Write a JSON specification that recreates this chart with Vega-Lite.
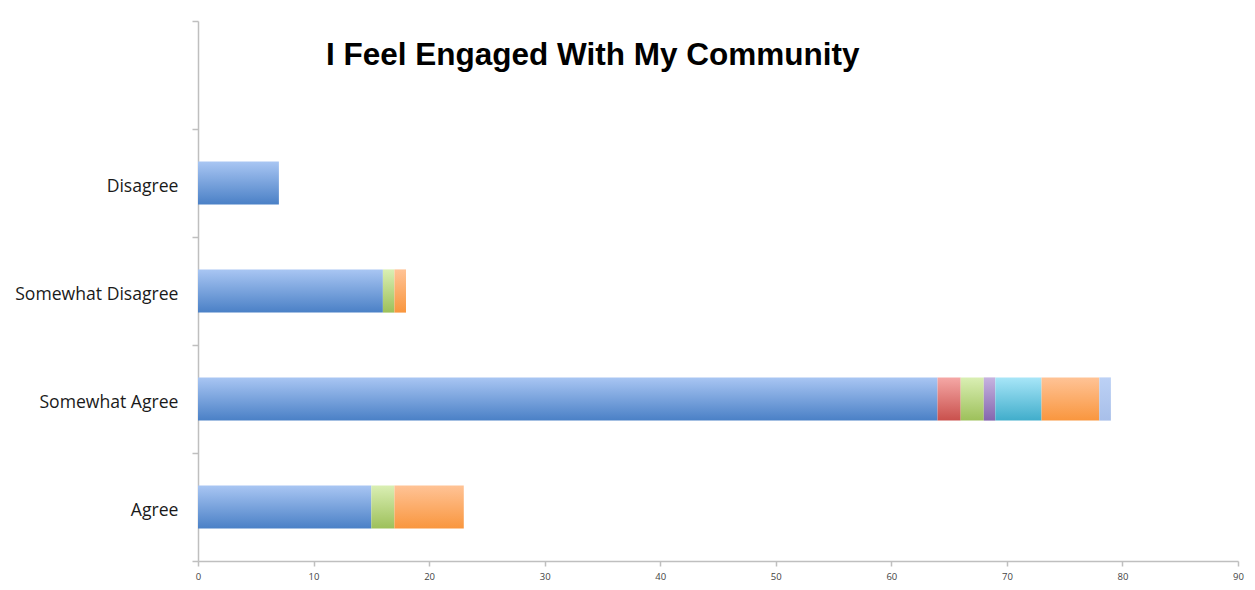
{
  "$schema": "https://vega.github.io/schema/vega-lite/v6.json",
  "width": 1040,
  "height": 540,
  "autosize": "none",
  "padding": {"left": 198, "top": 21, "right": 17, "bottom": 29},
  "background": "white",
  "title": {
    "text": "I Feel Engaged With My Community",
    "font": "Liberation Sans",
    "fontSize": 31.5,
    "fontWeight": "bold",
    "color": "#000000",
    "anchor": "start",
    "frame": "group",
    "dx": 128,
    "dy": 38,
    "offset": -46,
    "baseline": "alphabetic"
  },
  "data": {
    "values": [
      {"response": "Disagree", "series": "S1", "count": 7},
      {"response": "Somewhat Disagree", "series": "S1", "count": 16},
      {"response": "Somewhat Disagree", "series": "S3", "count": 1},
      {"response": "Somewhat Disagree", "series": "S6", "count": 1},
      {"response": "Somewhat Agree", "series": "S1", "count": 64},
      {"response": "Somewhat Agree", "series": "S2", "count": 2},
      {"response": "Somewhat Agree", "series": "S3", "count": 2},
      {"response": "Somewhat Agree", "series": "S4", "count": 1},
      {"response": "Somewhat Agree", "series": "S5", "count": 4},
      {"response": "Somewhat Agree", "series": "S6", "count": 5},
      {"response": "Somewhat Agree", "series": "S7", "count": 1},
      {"response": "Agree", "series": "S1", "count": 15},
      {"response": "Agree", "series": "S3", "count": 2},
      {"response": "Agree", "series": "S6", "count": 6}
    ]
  },
  "transform": [
    {"stack": "count", "groupby": ["response"], "sort": [{"field": "series", "order": "ascending"}], "as": ["x0", "x1"]}
  ],
  "encoding": {
    "y": {
      "field": "response",
      "type": "nominal",
      "scale": {
        "domain": ["(blank)", "Disagree", "Somewhat Disagree", "Somewhat Agree", "Agree"],
        "paddingInner": 0,
        "paddingOuter": 0
      },
      "axis": {
        "title": null,
        "grid": false,
        "tickBand": "extent",
        "domainColor": "#BFBFBF",
        "domainWidth": 1.5,
        "tickColor": "#BFBFBF",
        "tickWidth": 1.5,
        "tickSize": 6,
        "labelFont": "Open Sans",
        "labelFontSize": 17.6,
        "labelColor": "#1a1a1a",
        "labelPadding": 14,
        "labelOffset": 3,
        "labelExpr": "datum.label == '(blank)' ? '' : datum.label"
      }
    },
    "x": {
      "field": "x0",
      "type": "quantitative",
      "scale": {"domain": [0, 90], "nice": false},
      "axis": {
        "title": null,
        "grid": false,
        "values": [0, 10, 20, 30, 40, 50, 60, 70, 80, 90],
        "domainColor": "#BFBFBF",
        "domainWidth": 1.5,
        "tickColor": "#BFBFBF",
        "tickWidth": 1.5,
        "tickSize": 5,
        "labelFont": "Open Sans",
        "labelFontSize": 9.5,
        "labelColor": "#444444",
        "labelPadding": 5,
        "labelFlush": false,
        "labelOverlap": false
      }
    },
    "x2": {"field": "x1"}
  },
  "layer": [
    {"transform": [{"filter": "datum.series == 'S1'"}], "mark": {"type": "bar", "height": {"band": 0.4}, "color": {"gradient": "linear", "x1": 0, "y1": 0, "x2": 0, "y2": 1, "stops": [{"offset": 0, "color": "#A9C6F3"}, {"offset": 1, "color": "#4A80C6"}]}}},
    {"transform": [{"filter": "datum.series == 'S2'"}], "mark": {"type": "bar", "height": {"band": 0.4}, "color": {"gradient": "linear", "x1": 0, "y1": 0, "x2": 0, "y2": 1, "stops": [{"offset": 0, "color": "#F5A8A6"}, {"offset": 1, "color": "#C9504C"}]}}},
    {"transform": [{"filter": "datum.series == 'S3'"}], "mark": {"type": "bar", "height": {"band": 0.4}, "color": {"gradient": "linear", "x1": 0, "y1": 0, "x2": 0, "y2": 1, "stops": [{"offset": 0, "color": "#DAEFB4"}, {"offset": 1, "color": "#9DC05A"}]}}},
    {"transform": [{"filter": "datum.series == 'S4'"}], "mark": {"type": "bar", "height": {"band": 0.4}, "color": {"gradient": "linear", "x1": 0, "y1": 0, "x2": 0, "y2": 1, "stops": [{"offset": 0, "color": "#C6B3E0"}, {"offset": 1, "color": "#8466AE"}]}}},
    {"transform": [{"filter": "datum.series == 'S5'"}], "mark": {"type": "bar", "height": {"band": 0.4}, "color": {"gradient": "linear", "x1": 0, "y1": 0, "x2": 0, "y2": 1, "stops": [{"offset": 0, "color": "#A8E6F8"}, {"offset": 1, "color": "#40ADCB"}]}}},
    {"transform": [{"filter": "datum.series == 'S6'"}], "mark": {"type": "bar", "height": {"band": 0.4}, "color": {"gradient": "linear", "x1": 0, "y1": 0, "x2": 0, "y2": 1, "stops": [{"offset": 0, "color": "#FFC396"}, {"offset": 1, "color": "#F9963E"}]}}},
    {"transform": [{"filter": "datum.series == 'S7'"}], "mark": {"type": "bar", "height": {"band": 0.4}, "color": {"gradient": "linear", "x1": 0, "y1": 0, "x2": 0, "y2": 1, "stops": [{"offset": 0, "color": "#BCD1F5"}, {"offset": 1, "color": "#A8BFE9"}]}}}
  ],
  "config": {"view": {"stroke": null}}
}
